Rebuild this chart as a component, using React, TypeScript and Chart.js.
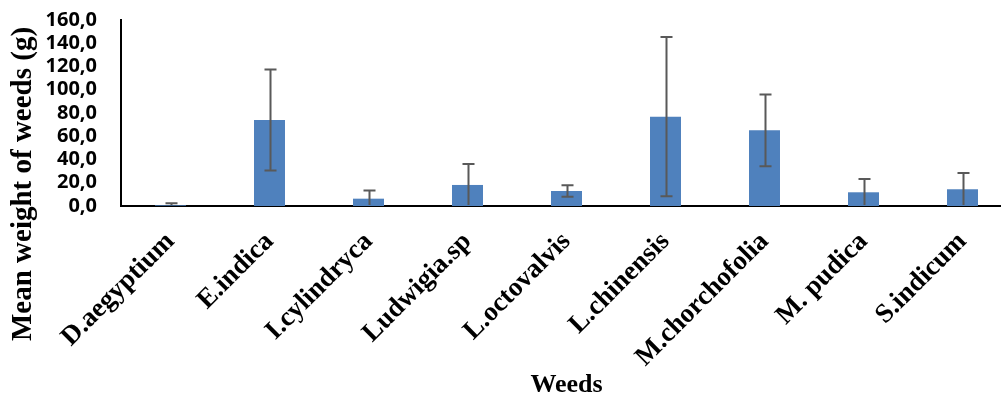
import React, { useEffect, useRef } from "react";
import { Chart, registerables } from "chart.js";

Chart.register(...registerables);

const categories = [
  "D.aegyptium",
  "E.indica",
  "I.cylindryca",
  "Ludwigia.sp",
  "L.octovalvis",
  "L.chinensis",
  "M.chorchofolia",
  "M. pudica",
  "S.indicum",
];
const meanWeights = [0.6, 74.0, 6.3, 18.1, 12.9, 76.8, 65.1, 11.8, 14.4];
const errorValues = [1.8, 43.5, 7.0, 18.0, 4.9, 68.5, 30.8, 11.4, 14.0];
const yTickValues = [0, 20, 40, 60, 80, 100, 120, 140, 160];
const yAxisTitle = "Mean weight of weeds (g)";
const xAxisTitle = "Weeds";

const errorBarPlugin = {
  id: "errorBars",
  afterDatasetsDraw(chart: any) {
    const meta = chart.getDatasetMeta(0);
    const yScale = chart.scales.y;
    const ctx = chart.ctx;
    const bottom = chart.chartArea.bottom;
    ctx.save();
    ctx.strokeStyle = "#595959";
    ctx.lineWidth = 2;
    meta.data.forEach((bar: any, i: number) => {
      const v = meanWeights[i];
      const e = errorValues[i];
      const x = Math.round(bar.x) + 0.5;
      const yTop = yScale.getPixelForValue(v + e);
      const yBot = Math.min(yScale.getPixelForValue(Math.max(v - e, 0)), bottom - 1);
      ctx.beginPath();
      ctx.moveTo(x, yTop);
      ctx.lineTo(x, yBot);
      ctx.moveTo(x - 6, yTop);
      ctx.lineTo(x + 6, yTop);
      if (yBot < bottom - 3) {
        ctx.moveTo(x - 6, yBot);
        ctx.lineTo(x + 6, yBot);
      }
      ctx.stroke();
    });
    ctx.restore();
  },
};

const titlesPlugin = {
  id: "axisTitles",
  afterDraw(chart: any) {
    const ctx = chart.ctx;
    const area = chart.chartArea;
    ctx.save();
    ctx.fillStyle = "#000000";
    ctx.textAlign = "center";
    ctx.textBaseline = "middle";
    ctx.font = "bold 29px 'Liberation Serif'";
    ctx.translate(24, 184);
    ctx.rotate(-Math.PI / 2);
    ctx.fillText(yAxisTitle, 0, 0);
    ctx.restore();
    ctx.save();
    ctx.fillStyle = "#000000";
    ctx.textAlign = "center";
    ctx.textBaseline = "middle";
    ctx.font = "bold 26px 'Liberation Serif'";
    ctx.fillText(xAxisTitle, (area.left + area.right) / 2, 385);
    ctx.restore();
  },
};

export default function App() {
  const canvasRef = useRef<HTMLCanvasElement | null>(null);

  useEffect(() => {
    document.body.style.overflow = "hidden";
    document.documentElement.style.overflow = "hidden";
    const canvas = canvasRef.current;
    if (!canvas) return;
    const chart = new Chart(canvas, {
      type: "bar",
      data: {
        labels: categories,
        datasets: [
          {
            data: meanWeights,
            backgroundColor: "#4F81BD",
            borderWidth: 0,
            categoryPercentage: 1,
            barPercentage: 0.313,
          },
        ],
      },
      options: {
        responsive: false,
        animation: false,
        devicePixelRatio: 1,
        layout: { padding: { top: 20, left: 0, right: 0, bottom: 0 } },
        plugins: {
          legend: { display: false },
          tooltip: { enabled: false },
        },
        scales: {
          x: {
            type: "category",
            offset: true,
            grid: { display: false, drawTicks: false },
            border: { display: true, color: "#000000", width: 2 },
            ticks: {
              autoSkip: false,
              maxRotation: 45,
              minRotation: 45,
              color: "#000000",
              padding: 20,
              font: { family: "'Liberation Serif'", weight: "bold", size: 27 },
            },
            afterFit: (scale: any) => {
              scale.height = 194;
              scale.paddingLeft = 0;
              scale.paddingRight = 0;
              scale.paddingTop = 0;
              scale.paddingBottom = 0;
            },
          },
          y: {
            type: "linear",
            min: 0,
            max: 160,
            grid: { display: false, drawTicks: false },
            border: { display: true, color: "#000000", width: 2 },
            afterBuildTicks: (scale: any) => {
              scale.ticks = yTickValues.map((v) => ({ value: v }));
            },
            ticks: {
              autoSkip: false,
              color: "#000000",
              padding: 24,
              font: { family: "'Open Sans'", weight: "bold", size: 20 },
              callback: (v: any) => Number(v).toFixed(1).replace(".", ","),
            },
            afterFit: (scale: any) => {
              scale.width = 121;
              scale.paddingLeft = 0;
              scale.paddingRight = 0;
              scale.paddingTop = 0;
              scale.paddingBottom = 0;
            },
          },
        },
      },
      plugins: [errorBarPlugin, titlesPlugin],
    });
    return () => {
      chart.destroy();
    };
  }, []);

  return (
    <div style={{ position: "absolute", left: 0, top: 0, width: 1012, height: 400 }}>
      <canvas ref={canvasRef} width={1012} height={400} style={{ display: "block" }} />
    </div>
  );
}
